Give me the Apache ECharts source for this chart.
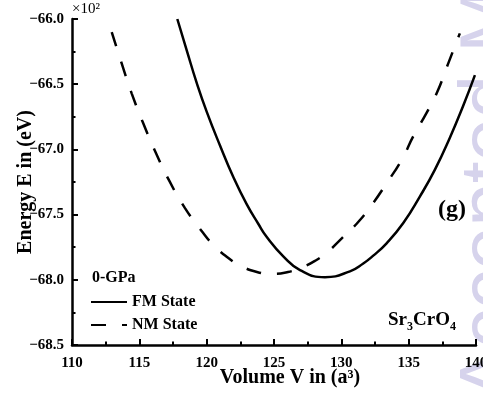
<!DOCTYPE html>
<html>
<head>
<meta charset="utf-8">
<script src="https://cdn.jsdelivr.net/npm/echarts@6/dist/echarts.min.js"></script>
<style>html,body{margin:0;padding:0;background:#fff}#c{width:483px;height:396px}</style>
</head>
<body>
<div id="c"></div>
<script>
// Volume (a^3) and Energy (x10^2 eV)
const fmVolume = [117.82,118.52,119.26,120.00,120.99,121.97,122.97,123.83,124.45,125.69,126.93,128.78,130.64,131.63,132.37,133.36,134.60,135.84,136.95,138.06,139.05,139.92];
const fmEnergy = [-66.00,-66.24,-66.49,-66.71,-66.97,-67.21,-67.42,-67.57,-67.67,-67.82,-67.925,-67.98,-67.935,-67.875,-67.815,-67.72,-67.565,-67.36,-67.155,-66.91,-66.665,-66.43];
const nmVolume = [112.95,113.69,114.43,115.29,116.24,117.22,118.39,119.73,120.47,121.51,122.47,123.73,124.85,126.04,127.07,128.04,129.00,129.90,131.14,132.37,133.36,134.48,135.34,136.33,137.08,137.94,138.80];
const nmEnergy = [-66.10,-66.34,-66.57,-66.80,-67.03,-67.24,-67.45,-67.64,-67.73,-67.825,-67.89,-67.94,-67.955,-67.94,-67.905,-67.855,-67.785,-67.695,-67.57,-67.41,-67.26,-67.08,-66.90,-66.72,-66.57,-66.34,-66.11];
const seriesNames = ['FM State','NM State'];
const xTicks = {min:110,max:140,step:5};
const yTicks = {min:-68.5,max:-66.0,step:0.5};

const serif = "'Liberation Serif','Times New Roman',serif";
const zip = (a,b)=>a.map((v,i)=>[v,b[i]]);
const chart = echarts.init(document.getElementById('c'));
const axisCommon = {
  axisLine:{lineStyle:{color:'#000',width:2.5}},
  axisTick:{inside:true,length:6,lineStyle:{color:'#000',width:2}},
  minorTick:{show:true,splitNumber:2,length:3.5,lineStyle:{color:'#000',width:2}},
  splitLine:{show:false},
  axisLabel:{color:'#000',fontFamily:serif,fontWeight:'bold',fontSize:15}
};
chart.setOption({
  animation:false,
  backgroundColor:'#fff',
  grid:{left:72,right:7,top:19,bottom:51,containLabel:false,outerBoundsMode:'none'},
  xAxis:Object.assign({},axisCommon,{
    type:'value',min:xTicks.min,max:xTicks.max,interval:xTicks.step,
    axisLabel:Object.assign({},axisCommon.axisLabel,{margin:11}),
    name:'Volume V in (a\u00b3)',nameLocation:'middle',nameGap:23,nameMoveOverlap:false,
    nameTextStyle:{color:'#000',fontFamily:serif,fontWeight:'bold',fontSize:20,padding:[0,0,0,32]}
  }),
  yAxis:Object.assign({},axisCommon,{
    type:'value',min:yTicks.min,max:yTicks.max,interval:yTicks.step,
    axisLabel:Object.assign({},axisCommon.axisLabel,{margin:8,
      formatter:v=>(v<0?'\u2212':'')+Math.abs(v).toFixed(1)}),
    name:'Energy E in (eV)',nameLocation:'middle',nameGap:36,nameRotate:90,nameMoveOverlap:false,
    nameTextStyle:{color:'#000',fontFamily:serif,fontWeight:'bold',fontSize:20}
  }),
  legend:{
    orient:'vertical',left:90,top:294,padding:0,itemWidth:36,itemHeight:14,itemGap:7,
    itemStyle:{opacity:0},
    textStyle:{color:'#000',fontFamily:serif,fontWeight:'bold',fontSize:16},
    data:seriesNames
  },
  graphic:[
    {type:'text',z:-10,x:492,y:400,rotation:Math.PI/2,silent:true,
     style:{text:'Accepted Manuscript',fill:'#d6d3ec',font:"78px 'Liberation Sans',Arial,sans-serif",textAlign:'left',textVerticalAlign:'middle'}},
    {type:'text',x:72,y:2,style:{text:'\u00d710\u00b2',fill:'#000',font:"15px "+serif}},
    {type:'text',x:92,y:270,style:{text:'0-GPa',fill:'#000',font:"bold 16px "+serif}},
    {type:'text',x:438,y:198,style:{text:'(g)',fill:'#000',font:"bold 24px "+serif}},
    {type:'text',x:388,y:311,style:{
      text:'{b|Sr}{s|3}{b|CrO}{s|4}',
      rich:{b:{fill:'#000',fontFamily:serif,fontWeight:'bold',fontSize:19,verticalAlign:'bottom'},
            s:{fill:'#000',fontFamily:serif,fontWeight:'bold',fontSize:12,verticalAlign:'bottom',padding:[0,0,-3,0]}}
    }}
  ],
  series:[
    {name:seriesNames[0],type:'line',smooth:true,symbol:'none',data:zip(fmVolume,fmEnergy),
     lineStyle:{color:'#000',width:2.5},itemStyle:{color:'#000'}},
    {name:seriesNames[1],type:'line',smooth:true,symbol:'none',data:zip(nmVolume,nmEnergy),
     lineStyle:{color:'#000',width:2.5,type:[15,16]},itemStyle:{color:'#000'}}
  ]
});
</script>
</body>
</html>
